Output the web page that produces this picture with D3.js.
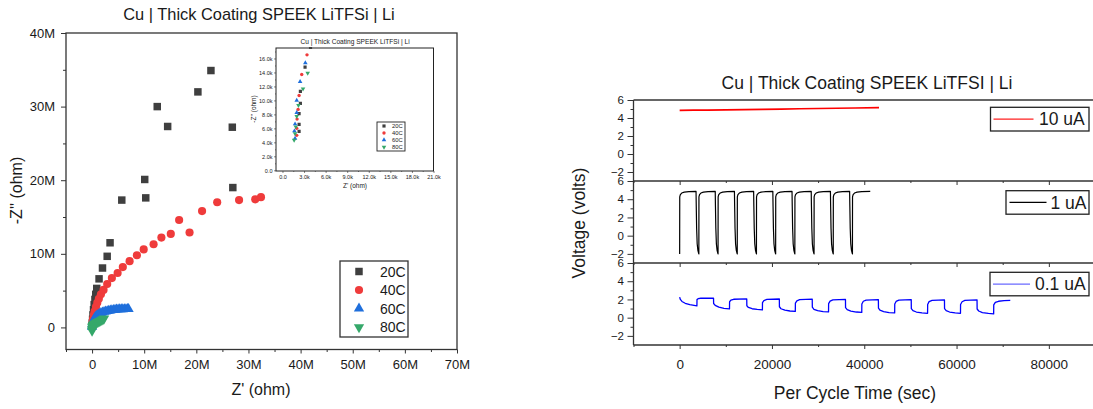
<!DOCTYPE html>
<html><head><meta charset="utf-8">
<script src="https://cdn.jsdelivr.net/npm/d3@7"></script>
<style>
body{margin:0;background:#fff;}
svg{font-family:"Liberation Sans",Arial,Helvetica,sans-serif;display:block;}
</style>
</head><body>
<svg id="c" width="1093" height="409"></svg>
<script>
// ================= DATA =================
// Nyquist plot (main), units: Mohm  [Z', -Z'']
const nyqSeries = ["20C","40C","60C","80C"];
const nyq20C = [[0.02,0.2],[0.05,0.6],[0.1,1.1],[0.18,1.7],[0.28,2.4],[0.4,3.1],[0.55,3.8],[0.7,4.5],[0.9,5.3],[1.34,6.6],[2.0,8.07],[2.9,9.66],[3.45,11.5],[5.7,17.3],[10.1,20.1],[10.3,17.6],[12.5,30.0],[14.5,27.3],[20.3,32.0],[22.8,34.9],[26.9,27.2],[27.0,19.0]];
const nyq40C = [[0.02,0.15],[0.06,0.45],[0.12,0.8],[0.2,1.2],[0.35,1.7],[0.5,2.2],[0.75,2.8],[1.0,3.35],[1.3,3.9],[1.7,4.5],[2.2,5.1],[2.9,5.9],[3.8,6.7],[4.9,7.4],[5.9,8.2],[7.2,9.0],[8.6,9.8],[9.9,10.6],[11.8,11.3],[13.3,12.2],[15.1,12.7],[16.7,14.6],[18.7,12.9],[21.1,15.8],[24.0,17.0],[28.2,17.3],[31.3,17.4],[32.4,17.7]];
const nyq60C = [[0.0,0.1],[0.05,0.35],[0.12,0.6],[0.22,0.85],[0.35,1.08],[0.5,1.28],[0.7,1.46],[0.9,1.6],[1.15,1.74],[1.4,1.85],[1.7,1.95],[2.0,2.04],[2.3,2.11],[2.6,2.17],[2.9,2.22],[3.2,2.27],[3.5,2.31],[3.8,2.35],[4.1,2.38],[4.4,2.4],[4.7,2.43],[5.0,2.45],[5.3,2.46],[5.6,2.47],[5.9,2.48],[6.2,2.49],[6.5,2.49],[6.8,2.5],[7.0,2.5]];
const nyq80C = [[0.0,-0.45],[0.02,-0.2],[0.05,0.05],[0.1,0.2],[0.2,0.32],[0.35,0.42],[0.5,0.5],[0.7,0.58],[0.9,0.66],[1.1,0.73],[1.3,0.8],[1.5,0.88],[1.7,0.96],[1.9,1.04],[2.1,1.12],[2.3,1.2]];
const nyqXTicks = [0,10,20,30,40,50,60,70];
const nyqXMinor = [-5,5,15,25,35,45,55,65];
const nyqYTicks = [0,10,20,30,40];
const nyqYMinor = [5,15,25,35];

// Inset (units: kohm)
const ins20C = [[3.14,14.76],[2.49,11.29],[2.49,9.57],[2.31,8.1],[2.31,6.57],[2.31,5.57],[3.9,17.6]];
const ins40C = [[3.41,16.52],[2.68,13.71],[2.31,10.71],[2.17,8.71],[2.03,7.33],[1.98,6.0],[1.98,5.0]];
const ins60C = [[3.18,15.38],[2.45,12.67],[1.98,10.0],[1.98,8.24],[1.75,6.62],[1.66,5.62],[1.75,4.57]];
const ins80C = [[3.51,13.9],[2.86,11.67],[2.22,9.29],[1.98,7.71],[1.85,6.24],[1.75,5.24],[1.62,4.33]];
const insXTicks = [0,3,6,9,12,15,18,21];
const insYTicks = [0,2,4,6,8,10,12,14,16];

// Voltage vs time  [sec, volts]
const vSeries = ["10 uA","1 uA","0.1 uA"];
const v10uA = [[0,4.85],[3000,4.87],[6000,4.88],[10000,4.9],[14000,4.93],[18000,4.96],[22000,4.99],[26000,5.02],[30000,5.05],[34000,5.08],[38000,5.11],[43200,5.15]];
const v1uA = [
 [0,-2.0],[20,4.25],[150,4.5],[450,4.68],[1000,4.78],[2000,4.84],[3550,4.87],[3600,3.2],[3680,0.8],[3800,-0.9],[3950,-1.6],[4150,-2.0],
 [4160,-2.0],[4180,4.25],[4310,4.5],[4610,4.68],[5160,4.78],[6160,4.84],[7710,4.87],[7760,3.2],[7840,0.8],[7960,-0.9],[8110,-1.6],[8310,-2.0],
 [8320,-2.0],[8340,4.25],[8470,4.5],[8770,4.68],[9320,4.78],[10320,4.84],[11870,4.87],[11920,3.2],[12000,0.8],[12120,-0.9],[12270,-1.6],[12470,-2.0],
 [12480,-2.0],[12500,4.25],[12630,4.5],[12930,4.68],[13480,4.78],[14480,4.84],[16030,4.87],[16080,3.2],[16160,0.8],[16280,-0.9],[16430,-1.6],[16630,-2.0],
 [16640,-2.0],[16660,4.25],[16790,4.5],[17090,4.68],[17640,4.78],[18640,4.84],[20190,4.87],[20240,3.2],[20320,0.8],[20440,-0.9],[20590,-1.6],[20790,-2.0],
 [20800,-2.0],[20820,4.25],[20950,4.5],[21250,4.68],[21800,4.78],[22800,4.84],[24350,4.87],[24400,3.2],[24480,0.8],[24600,-0.9],[24750,-1.6],[24950,-2.0],
 [24960,-2.0],[24980,4.25],[25110,4.5],[25410,4.68],[25960,4.78],[26960,4.84],[28510,4.87],[28560,3.2],[28640,0.8],[28760,-0.9],[28910,-1.6],[29110,-2.0],
 [29120,-2.0],[29140,4.25],[29270,4.5],[29570,4.68],[30120,4.78],[31120,4.84],[32670,4.87],[32720,3.2],[32800,0.8],[32920,-0.9],[33070,-1.6],[33270,-2.0],
 [33280,-2.0],[33300,4.25],[33430,4.5],[33730,4.68],[34280,4.78],[35280,4.84],[36830,4.87],[36880,3.2],[36960,0.8],[37080,-0.9],[37230,-1.6],[37430,-2.0],
 [37440,-2.0],[37460,4.25],[37590,4.5],[37890,4.68],[38440,4.78],[39440,4.84],[41300,4.87]
];
const v01uA = [
 [0,2.25],[150,2.0],[500,1.78],[1200,1.58],[2200,1.43],[3740,1.3],
 [3760,1.98],[4000,2.08],[4600,2.13],[7340,2.15],
 [7360,1.55],[7700,1.35],[8500,1.15],[9600,1.03],[10800,0.97],
 [10820,1.75],[11100,1.92],[11700,2.02],[14540,2.06],
 [14560,1.3],[14900,1.12],[15700,0.98],[16800,0.9],[17930,0.86],
 [17950,1.65],[18250,1.88],[18900,2.0],[21600,2.05],
 [21620,1.2],[21950,0.98],[22800,0.82],[23900,0.73],[25060,0.68],
 [25080,1.6],[25400,1.85],[26000,1.97],[28730,2.03],
 [28750,1.15],[29100,0.92],[29900,0.77],[31100,0.67],[32260,0.63],
 [32280,1.55],[32600,1.82],[33200,1.95],[35930,2.0],
 [35950,1.1],[36300,0.88],[37100,0.72],[38300,0.62],[39460,0.58],
 [39480,1.5],[39800,1.8],[40400,1.93],[43060,1.98],
 [43080,1.05],[43400,0.82],[44200,0.66],[45400,0.56],[46590,0.52],
 [46610,1.5],[46900,1.78],[47500,1.92],[50180,1.97],
 [50200,1.0],[50550,0.78],[51300,0.62],[52500,0.52],[53720,0.48],
 [53740,1.45],[54050,1.76],[54700,1.9],[57380,1.96],
 [57400,1.0],[57750,0.78],[58500,0.62],[59700,0.52],[60850,0.48],
 [60870,1.45],[61200,1.75],[61800,1.89],[64440,1.95],
 [64460,0.95],[64800,0.73],[65600,0.56],[66900,0.46],[68040,0.42],
 [68060,1.4],[68400,1.68],[69100,1.8],[70300,1.86],[71640,1.9]
];
const vXTicks = [0,20000,40000,60000,80000];
const vXMinor = [-10000,10000,30000,50000,70000];
const vYTicks = [-2,0,2,4,6];
const vYMinor = [-1,1,3,5];

// ================= DRAW =================
const svg = d3.select("#c");
const AX = "#333";
const TXT = "#1a1a1a";
const nyqColors = ["#3f3f3f","#ef3b3b","#1f6fdc","#35a86a"];
const nyqShapes = [d3.symbolSquare, d3.symbolCircle, d3.symbolTriangle, d3.symbolTriangle];
const nyqRot = [0,0,0,180];

function styleAxis(g, fs){
  g.select(".domain").remove();
  g.selectAll(".tick line").attr("stroke",AX).attr("stroke-width",1);
  g.selectAll(".tick text").attr("fill",TXT).style("font-size",fs+"px").style("font-family",null);
  g.attr("font-family",null);
}

// ---------- Left main plot ----------
const xM = d3.scaleLinear().domain([-5,70]).range([66,457]);
const yM = d3.scaleLinear().domain([-3,40]).range([349.5,33]);
const L = svg.append("g");

const fmtM = d => d===0 ? "0" : d+"M";
L.append("g").attr("transform","translate(0,349.5)")
  .call(d3.axisBottom(xM).tickValues(nyqXTicks).tickSize(4).tickPadding(6.5).tickFormat(fmtM))
  .call(g=>styleAxis(g,13));
L.append("g").attr("transform","translate(0,349.5)")
  .call(d3.axisBottom(xM).tickValues(nyqXMinor).tickSize(2.5).tickFormat(""))
  .call(g=>styleAxis(g,13));
L.append("g").attr("transform","translate(66,0)")
  .call(d3.axisLeft(yM).tickValues(nyqYTicks).tickSize(5).tickPadding(6).tickFormat(fmtM))
  .call(g=>styleAxis(g,13));
L.append("g").attr("transform","translate(66,0)")
  .call(d3.axisLeft(yM).tickValues(nyqYMinor).tickSize(3).tickFormat(""))
  .call(g=>styleAxis(g,13));

L.append("rect").attr("x",xM.range()[0]).attr("y",yM.range()[1])
  .attr("width",xM.range()[1]-xM.range()[0]).attr("height",yM.range()[0]-yM.range()[1])
  .attr("fill","none").attr("stroke",AX).attr("stroke-width",1.3);

const mainData = [nyq20C,nyq40C,nyq60C,nyq80C];
const mainSizes = [56,52,46,46];
mainData.forEach((ser,i)=>{
  L.append("g").selectAll("path").data(ser).join("path")
   .attr("d", d3.symbol().type(nyqShapes[i]).size(mainSizes[i]))
   .attr("transform", d=>`translate(${xM(d[0])},${yM(d[1])}) rotate(${nyqRot[i]})`)
   .attr("fill", nyqColors[i]);
});

L.append("text").attr("x",259).attr("y",20).attr("text-anchor","middle")
  .style("font-size","16.4px").attr("fill",TXT).text("Cu | Thick Coating SPEEK LiTFSi | Li");
L.append("text").attr("x",261).attr("y",395).attr("text-anchor","middle")
  .style("font-size","16px").attr("fill",TXT).text("Z' (ohm)");
L.append("text").attr("transform","translate(22,190.5) rotate(-90)").attr("text-anchor","middle")
  .style("font-size","16px").attr("fill",TXT).text("-Z'' (ohm)");

// main legend
const lg = L.append("g");
lg.append("rect").attr("x",340).attr("y",261).attr("width",68).attr("height",76)
  .attr("fill","#fff").attr("stroke",AX).attr("stroke-width",1.3);
const lgY = [271.5,290,308.5,327.3];
nyqSeries.forEach((s,i)=>{
  lg.append("path").attr("d", d3.symbol().type(nyqShapes[i]).size(mainSizes[i]))
    .attr("transform",`translate(359,${lgY[i]}) rotate(${nyqRot[i]})`).attr("fill",nyqColors[i]);
  lg.append("text").attr("x",380).attr("y",lgY[i]).attr("dy","0.36em")
    .style("font-size","14px").attr("fill",TXT).text(s);
});

// ---------- Inset ----------
const xI = d3.scaleLinear().domain([-0.9,21]).range([276,433.5]);
const yI = d3.scaleLinear().domain([-0.1,17.5]).range([171,48]);
const I = svg.append("g");
const fmtK = d => d===0 ? "0.0" : d.toFixed(1)+"k";
I.append("g").attr("transform","translate(0,171)")
  .call(d3.axisBottom(xI).tickValues(insXTicks).tickSize(2).tickPadding(2.5).tickFormat(fmtK))
  .call(g=>styleAxis(g,5.5));
I.append("g").attr("transform","translate(0,171)")
  .call(d3.axisBottom(xI).tickValues(insXTicks.slice(0,-1).map(v=>v+1.5)).tickSize(1).tickFormat(""))
  .call(g=>styleAxis(g,5.5));
I.append("g").attr("transform","translate(276,0)")
  .call(d3.axisLeft(yI).tickValues(insYTicks).tickSize(2).tickPadding(1.5).tickFormat(fmtK))
  .call(g=>styleAxis(g,5.5));
I.append("g").attr("transform","translate(276,0)")
  .call(d3.axisLeft(yI).tickValues(insYTicks.map(v=>v+1)).tickSize(1).tickFormat(""))
  .call(g=>styleAxis(g,5.5));
I.selectAll(".tick line").attr("stroke-width",0.6);
I.append("rect").attr("x",276).attr("y",48).attr("width",157.5).attr("height",123)
  .attr("fill","none").attr("stroke","#222").attr("stroke-width",1);

const insData = [ins20C,ins40C,ins60C,ins80C];
const insSizes = [10,9,9,9];
const clipI = svg.append("clipPath").attr("id","ci");
clipI.append("rect").attr("x",276).attr("y",47).attr("width",157.5).attr("height",124);
insData.forEach((ser,i)=>{
  I.append("g").attr("clip-path","url(#ci)").selectAll("path").data(ser).join("path")
   .attr("d", d3.symbol().type(nyqShapes[i]).size(insSizes[i]))
   .attr("transform", d=>`translate(${xI(d[0])},${yI(d[1])}) rotate(${nyqRot[i]})`)
   .attr("fill", nyqColors[i]);
});
I.append("text").attr("x",355).attr("y",44).attr("text-anchor","middle")
  .style("font-size","6.6px").attr("fill",TXT).text("Cu | Thick Coating SPEEK LiTFSi | Li");
I.append("text").attr("x",355).attr("y",188).attr("text-anchor","middle")
  .style("font-size","6.5px").attr("fill",TXT).text("Z' (ohm)");
I.append("text").attr("transform","translate(256,109) rotate(-90)").attr("text-anchor","middle")
  .style("font-size","6.5px").attr("fill",TXT).text("-Z'' (ohm)");
const ilg = I.append("g");
ilg.append("rect").attr("x",377).attr("y",122).attr("width",28).attr("height",29)
  .attr("fill","#fff").attr("stroke","#222").attr("stroke-width",0.9);
const ilgY = [126,133,140,147];
nyqSeries.forEach((s,i)=>{
  ilg.append("path").attr("d", d3.symbol().type(nyqShapes[i]).size(insSizes[i]))
    .attr("transform",`translate(384,${ilgY[i]}) rotate(${nyqRot[i]})`).attr("fill",nyqColors[i]);
  ilg.append("text").attr("x",392).attr("y",ilgY[i]).attr("dy","0.36em")
    .style("font-size","5.8px").attr("fill",TXT).text(s);
});

// ---------- Right: stacked voltage panels ----------
const xR = d3.scaleLinear().domain([-10000,90000]).range([633.5,1095]);
const panels = [
  {top:100, bot:181, data:v10uA, color:"#ff0000", lcolor:"#ff2020", w:1.6, box:[990.5,107.3,98.5,23.7], line:[993.5,1033.5], tx:1039},
  {top:181, bot:263, data:v1uA,  color:"#000000", lcolor:"#000000", w:1.2, box:[1006,190.7,83,23.5], line:[1009.5,1046.5], tx:1050.5},
  {top:263, bot:345, data:v01uA, color:"#0000ff", lcolor:"#6a6aff", w:1.3, box:[990,272.3,99,23.5], line:[993,1030], tx:1035}
];
const R = svg.append("g");
panels.forEach((p,i)=>{
  const y = d3.scaleLinear().domain([-3,6]).range([p.bot,p.top]);
  const g = R.append("g");
  g.append("g").attr("transform","translate(633.5,0)")
   .call(d3.axisLeft(y).tickValues(vYTicks).tickSize(6).tickPadding(3.5))
   .call(a=>styleAxis(a,11.5));
  g.append("g").attr("transform","translate(633.5,0)")
   .call(d3.axisLeft(y).tickValues(vYMinor).tickSize(3).tickFormat(""))
   .call(a=>styleAxis(a,11.5));
  const isLast = i===panels.length-1;
  g.append("g").attr("transform",`translate(0,${p.bot})`)
   .call(d3.axisBottom(xR).tickValues(vXTicks).tickSize(4).tickPadding(10).tickFormat(isLast? d3.format("d") : ""))
   .call(a=>styleAxis(a,13.5));
  g.append("g").attr("transform",`translate(0,${p.bot})`)
   .call(d3.axisBottom(xR).tickValues(vXMinor).tickSize(2).tickFormat(""))
   .call(a=>styleAxis(a,13.5));
  const line = d3.line().x(d=>xR(d[0])).y(d=>y(d[1]));
  g.append("path").datum(p.data).attr("d",line).attr("fill","none")
   .attr("stroke",p.color).attr("stroke-width",p.w).attr("stroke-linejoin","round");
  // legend
  g.append("rect").attr("x",p.box[0]).attr("y",p.box[1]).attr("width",p.box[2]).attr("height",p.box[3])
   .attr("fill","#fff").attr("stroke","#222").attr("stroke-width",1.3);
  const cy = p.box[1]+p.box[3]/2;
  g.append("line").attr("x1",p.line[0]).attr("x2",p.line[1]).attr("y1",cy).attr("y2",cy)
   .attr("stroke",p.lcolor).attr("stroke-width",1.2);
  g.append("text").attr("x",p.tx).attr("y",cy).attr("dy","0.36em")
   .style("font-size","17.5px").attr("fill",TXT).text(vSeries[i]);
});
// frame lines
[100,181,263,345].forEach(yy=>{
  R.append("line").attr("x1",633.5).attr("x2",1095).attr("y1",yy).attr("y2",yy)
   .attr("stroke",AX).attr("stroke-width",1.3);
});
R.append("line").attr("x1",633.5).attr("x2",633.5).attr("y1",100).attr("y2",345)
  .attr("stroke",AX).attr("stroke-width",1.3);
R.append("line").attr("x1",1095).attr("x2",1095).attr("y1",100).attr("y2",345)
  .attr("stroke",AX).attr("stroke-width",1.3);

R.append("text").attr("x",867).attr("y",89).attr("text-anchor","middle")
  .style("font-size","17.5px").attr("fill",TXT).text("Cu | Thick Coating SPEEK LiTFSI | Li");
R.append("text").attr("x",855).attr("y",399).attr("text-anchor","middle")
  .style("font-size","17.5px").attr("fill",TXT).text("Per Cycle Time (sec)");
R.append("text").attr("transform","translate(585,223) rotate(-90)").attr("text-anchor","middle")
  .style("font-size","17.5px").attr("fill",TXT).text("Voltage (volts)");
</script>
</body></html>
